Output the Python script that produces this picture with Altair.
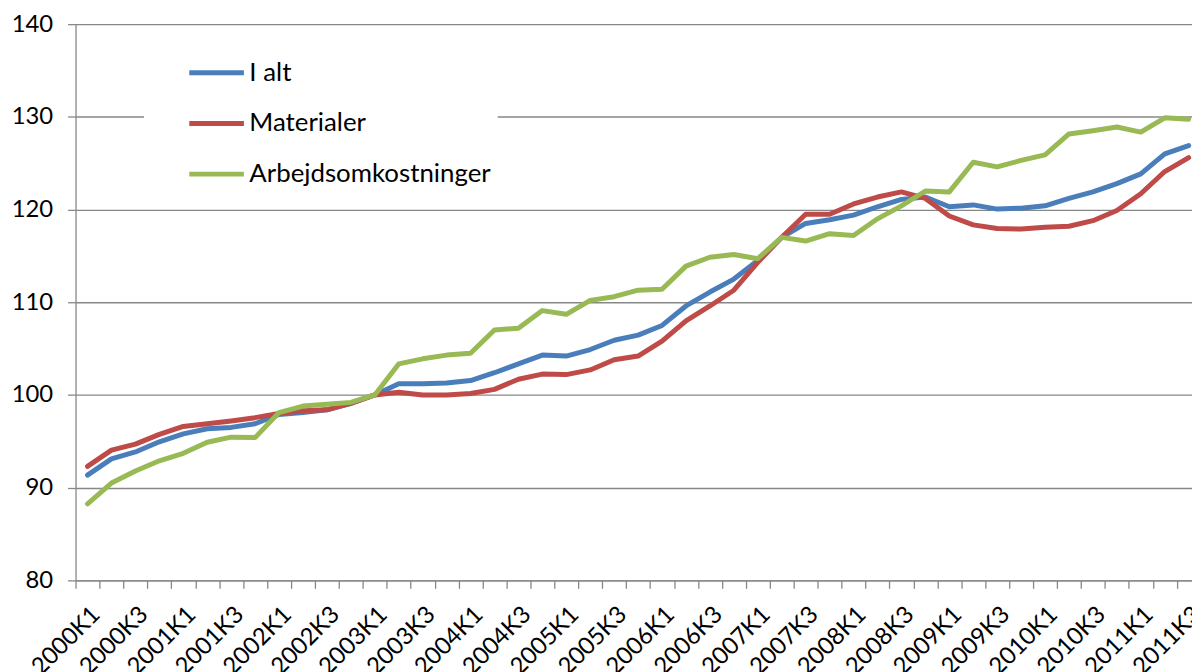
import altair as alt
import pandas as pd

quarters = [
    "2000K1", "2000K2", "2000K3", "2000K4", "2001K1", "2001K2", "2001K3", "2001K4",
    "2002K1", "2002K2", "2002K3", "2002K4", "2003K1", "2003K2", "2003K3", "2003K4",
    "2004K1", "2004K2", "2004K3", "2004K4", "2005K1", "2005K2", "2005K3", "2005K4",
    "2006K1", "2006K2", "2006K3", "2006K4", "2007K1", "2007K2", "2007K3", "2007K4",
    "2008K1", "2008K2", "2008K3", "2008K4", "2009K1", "2009K2", "2009K3", "2009K4",
    "2010K1", "2010K2", "2010K3", "2010K4", "2011K1", "2011K2", "2011K3",
]

series_names = ["I alt", "Materialer", "Arbejdsomkostninger"]

i_alt = [91.35, 93.1, 93.85, 94.95, 95.8, 96.35, 96.5, 96.9, 97.9, 98.1, 98.4, 99.1,
         100.0, 101.2, 101.2, 101.3, 101.55, 102.4, 103.35, 104.3, 104.2, 104.9, 105.9, 106.45,
         107.5, 109.6, 111.1, 112.5, 114.5, 117.0, 118.5, 118.9, 119.4, 120.3, 121.1, 121.35,
         120.3, 120.5, 120.05, 120.15, 120.4, 121.2, 121.9, 122.8, 123.85, 126.0, 126.9]

materialer = [92.3, 94.05, 94.7, 95.75, 96.6, 96.9, 97.2, 97.55, 98.0, 98.3, 98.4, 99.1,
              100.0, 100.3, 100.0, 100.0, 100.15, 100.6, 101.7, 102.25, 102.2, 102.7, 103.8, 104.2,
              105.8, 108.0, 109.6, 111.3, 114.3, 117.0, 119.5, 119.5, 120.6, 121.35, 121.9, 121.2,
              119.3, 118.35, 117.95, 117.9, 118.1, 118.2, 118.8, 119.9, 121.7, 124.1, 125.6]

arbejdsomkostninger = [88.25, 90.5, 91.8, 92.9, 93.7, 94.9, 95.45, 95.4, 98.1, 98.8, 99.0, 99.2,
                       100.0, 103.35, 103.9, 104.3, 104.5, 107.0, 107.2, 109.1, 108.7, 110.2, 110.6, 111.3,
                       111.4, 113.9, 114.85, 115.15, 114.7, 117.0, 116.6, 117.4, 117.2, 119.0, 120.4, 122.0,
                       121.9, 125.1, 124.6, 125.3, 125.9, 128.15, 128.5, 128.9, 128.35, 129.9, 129.75]

colors = ["#4A7EBB", "#BE4B48", "#98B954"]
y_ticks = [80, 90, 100, 110, 120, 130, 140]

rows = []
for name, vals in zip(series_names, [i_alt, materialer, arbejdsomkostninger]):
    for idx, (q, v) in enumerate(zip(quarters, vals)):
        rows.append({"idx": idx, "kvartal": q, "serie": name, "value": v, "ord": series_names.index(name)})
df = pd.DataFrame(rows)

FONT = "Lato"
GRID = "#878787"
PLOT_W = 1124
PLOT_H = 560
step = 24.1
x_max = PLOT_W / step - 0.5

label_array = "[" + ",".join("'" + q + "'" for q in quarters) + "]"
label_expr = f"datum.value % 2 == 0 ? {label_array}[datum.value] : ''"

chart = alt.Chart(df).mark_line(strokeWidth=5, strokeJoin="round", strokeCap="round").encode(
    x=alt.X("idx:Q",
            scale=alt.Scale(domain=[-0.5, x_max], nice=False, zero=False),
            axis=alt.Axis(values=list(range(len(quarters))), labelExpr=label_expr,
                          tickOffset=-step / 2, labelOffset=step / 2,
                          labelAngle=-45, labelFontSize=24, labelFont=FONT, labelColor="#000000",
                          labelOverlap=False, labelFlush=False, labelBound=False,
                          tickSize=8, tickColor=GRID, tickWidth=1.3,
                          domainColor=GRID, domainWidth=1.3, grid=False, title=None,
                          labelPadding=14)),
    y=alt.Y("value:Q",
            scale=alt.Scale(domain=[80, 140], nice=False, zero=False),
            axis=alt.Axis(values=y_ticks, labelFontSize=24, labelFont=FONT, labelColor="#000000",
                          tickSize=8, tickColor=GRID, tickWidth=1.3,
                          domainColor=GRID, domainWidth=1.3,
                          grid=True, gridColor=GRID, gridWidth=1.3,
                          labelPadding=15, title=None)),
    color=alt.Color("serie:N",
                    scale=alt.Scale(domain=series_names, range=colors),
                    legend=alt.Legend(title=None, orient="none", legendX=69, legendY=13,
                                      fillColor="#ffffff", padding=6, symbolOffset=37,
                                      symbolType="stroke", symbolSize=3025, symbolStrokeWidth=5,
                                      labelFontSize=26, labelFont=FONT, labelColor="#000000",
                                      labelLimit=0, labelOffset=3, rowPadding=8)),
    order=alt.Order("ord:Q"),
    detail="serie:N",
).properties(
    width=PLOT_W, height=PLOT_H,
    padding={"left": 68, "top": 14, "right": 0, "bottom": 90},
    autosize=alt.AutoSizeParams(type="none"),
).configure_view(stroke=None)

chart.save("out.html", embed_options={"renderer": "svg", "actions": False})
